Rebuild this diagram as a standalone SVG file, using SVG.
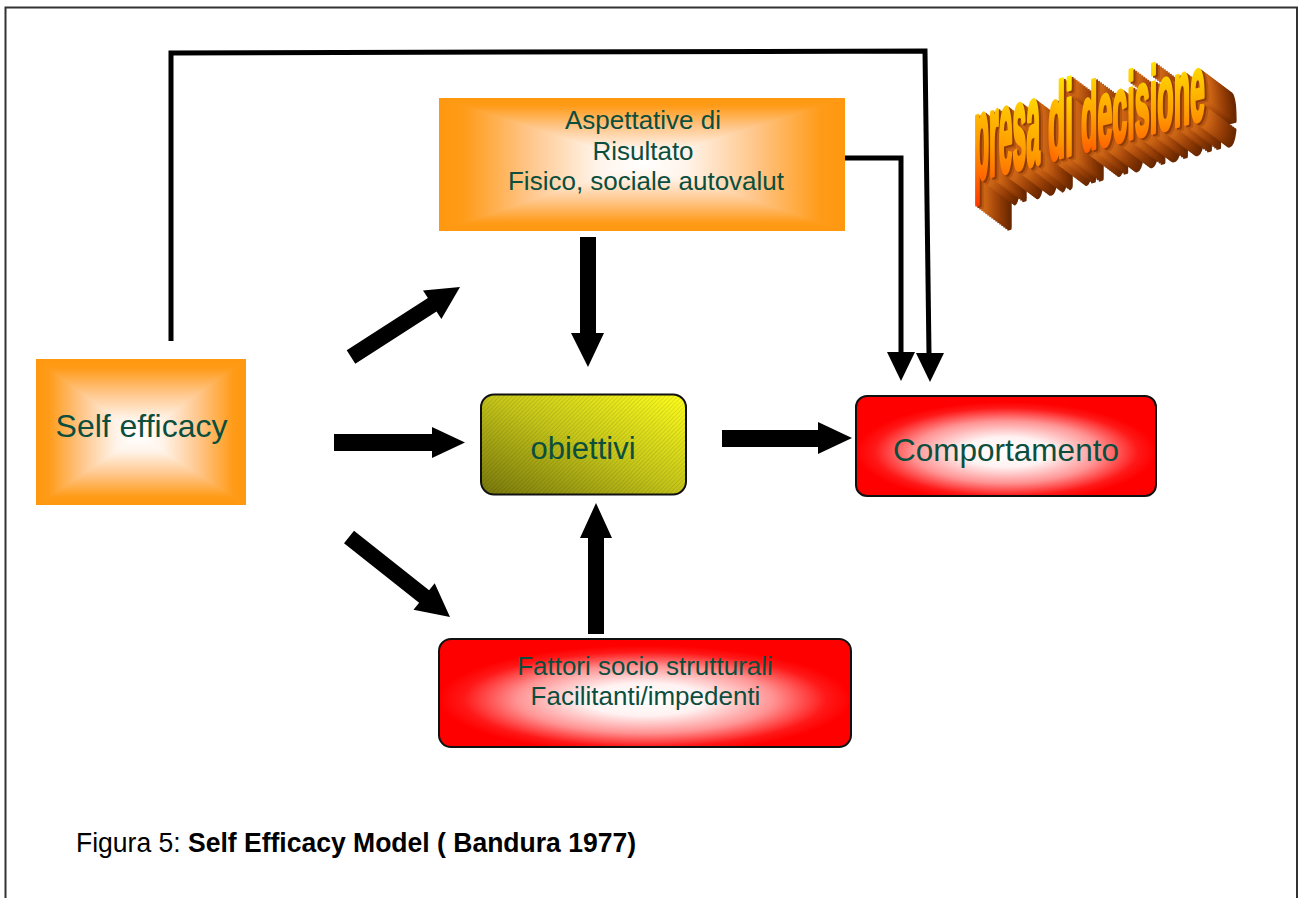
<svg xmlns="http://www.w3.org/2000/svg" xmlns:xlink="http://www.w3.org/1999/xlink" width="1298" height="898" viewBox="0 0 1298 898">
<style>
.lbl{font-family:"Liberation Sans",Arial,sans-serif;fill:#0B4E3E;text-anchor:middle}
.blk{fill:#000}
.thin{fill:none;stroke:#000;stroke-width:5;stroke-linejoin:miter}
.frame{fill:none;stroke:#333;stroke-width:2}
.tri{shape-rendering:crispEdges}
.wa{font-family:"Liberation Sans",Arial,sans-serif;font-weight:bold;font-size:48px}
.ex{stroke-width:2.2;stroke-linejoin:round}
</style>
<defs>
<linearGradient id="og"><stop offset="0" stop-color="#FF980F"/><stop offset="0.12" stop-color="#FF9B18"/><stop offset="0.45" stop-color="#FFC78C"/><stop offset="0.78" stop-color="#FFF4EA"/><stop offset="1" stop-color="#FFFFFF"/></linearGradient>
<radialGradient id="rg" cx="0.5" cy="0.56" r="0.5"><stop offset="0" stop-color="#FFFFFF"/><stop offset="0.3" stop-color="#FFF2F2"/><stop offset="0.62" stop-color="#FF9494"/><stop offset="0.88" stop-color="#FF1818"/><stop offset="1" stop-color="#FF0000"/></radialGradient>
<!-- Self efficacy -->
<linearGradient id="se-t" href="#og" gradientUnits="userSpaceOnUse" x1="0" y1="359" x2="0" y2="436"/>
<linearGradient id="se-b" href="#og" gradientUnits="userSpaceOnUse" x1="0" y1="505" x2="0" y2="436"/>
<linearGradient id="se-l" href="#og" gradientUnits="userSpaceOnUse" x1="36" y1="0" x2="139" y2="0"/>
<linearGradient id="se-r" href="#og" gradientUnits="userSpaceOnUse" x1="246" y1="0" x2="139" y2="0"/>
<!-- Aspettative -->
<linearGradient id="as-t" href="#og" gradientUnits="userSpaceOnUse" x1="0" y1="98" x2="0" y2="163"/>
<linearGradient id="as-b" href="#og" gradientUnits="userSpaceOnUse" x1="0" y1="231" x2="0" y2="163"/>
<linearGradient id="as-l" href="#og" gradientUnits="userSpaceOnUse" x1="439" y1="0" x2="642" y2="0"/>
<linearGradient id="as-r" href="#og" gradientUnits="userSpaceOnUse" x1="845" y1="0" x2="642" y2="0"/>
<!-- obiettivi -->
<linearGradient id="ob" x1="0" y1="1" x2="1" y2="0"><stop offset="0" stop-color="#77770C"/><stop offset="0.5" stop-color="#C4C41A"/><stop offset="1" stop-color="#FFFF1E"/></linearGradient>
<pattern id="hatch" width="3" height="3" patternUnits="userSpaceOnUse" patternTransform="rotate(-45)"><rect width="3" height="1" fill="#000" fill-opacity="0.1"/></pattern>
<!-- WordArt -->
<linearGradient id="wa-face" x1="0" y1="1" x2="0.25" y2="0"><stop offset="0" stop-color="#FF3A00"/><stop offset="0.45" stop-color="#FF9A00"/><stop offset="1" stop-color="#FFEA00"/></linearGradient>
<g id="wa">
  <text class="wa" textLength="66" lengthAdjust="spacingAndGlyphs" transform="translate(974,180) skewY(-15) scale(1,2.45)">presa</text>
  <text class="wa" textLength="25" lengthAdjust="spacingAndGlyphs" transform="translate(1048,160.3) skewY(-15) scale(1,2.2)">di</text>
  <text class="wa" textLength="124" lengthAdjust="spacingAndGlyphs" transform="translate(1081,151.6) skewY(-15) scale(1,1.95)">decisione</text>
</g>
</defs>

<rect class="frame" x="5.5" y="7.5" width="1291.5" height="900"/>

<g id="connectors">
  <polyline class="thin" points="171,341 171,53 925,51 929,354"/>
  <polygon class="blk" points="916,353 944,353 930,382"/>
  <polyline class="thin" points="817,158 901,158 901,353"/>
  <polygon class="blk" points="887,352 915,352 901,381"/>
  <polygon class="blk" points="346.7,350.3 427.9,298.1 423,290.5 460,287 441.4,319.1 436.5,311.5 355.3,363.7"/>
  <polygon class="blk" points="334,434 432,434 432,427 465,442.5 432,458 432,451 334,451"/>
  <polygon class="blk" points="354,530.7 429.1,590.2 434.7,583.2 450,617 413.5,609.8 419.1,602.8 344,543.3"/>
  <polygon class="blk" points="580,237 596,237 596,333 604,333 588,367 571,333 580,333"/>
  <polygon class="blk" points="722,430 818,430 818,422 852,438 818,454 818,447 722,447"/>
  <polygon class="blk" points="588,634 588,538 580,538 596,503 612,538 604,538 604,634"/>
</g>

<g id="node-self-efficacy">
  <rect x="36" y="359" width="210" height="146" fill="#FFB050"/>
  <polygon class="tri" points="36,359 246,359 139,436" fill="url(#se-t)"/>
  <polygon class="tri" points="36,505 246,505 139,436" fill="url(#se-b)"/>
  <polygon class="tri" points="36,359 36,505 139,436" fill="url(#se-l)"/>
  <polygon class="tri" points="246,359 246,505 139,436" fill="url(#se-r)"/>
  <text class="lbl" x="141.5" y="437" font-size="32">Self efficacy</text>
</g>

<g id="node-aspettative">
  <rect x="439" y="98" width="406" height="133" fill="#FFB050"/>
  <polygon class="tri" points="439,98 845,98 642,163" fill="url(#as-t)"/>
  <polygon class="tri" points="439,231 845,231 642,163" fill="url(#as-b)"/>
  <polygon class="tri" points="439,98 439,231 642,163" fill="url(#as-l)"/>
  <polygon class="tri" points="845,98 845,231 642,163" fill="url(#as-r)"/>
  <text class="lbl" font-size="26"><tspan x="643" y="129">Aspettative di</tspan><tspan x="643" y="160">Risultato</tspan><tspan x="646" y="190">Fisico, sociale autovalut</tspan></text>
</g>

<g id="node-obiettivi">
  <rect x="481" y="394.5" width="205" height="100" rx="13" fill="url(#ob)"/>
  <rect x="481" y="394.5" width="205" height="100" rx="13" fill="url(#hatch)" stroke="#111" stroke-width="2"/>
  <text class="lbl" x="583" y="459" font-size="31">obiettivi</text>
</g>

<g id="node-comportamento">
  <rect x="856" y="396" width="300" height="100" rx="11" fill="url(#rg)" stroke="#111" stroke-width="2"/>
  <text class="lbl" x="1006" y="461" font-size="31.5">Comportamento</text>
</g>

<g id="node-fattori">
  <rect x="439" y="639" width="412" height="108" rx="12" fill="url(#rg)" stroke="#111" stroke-width="2"/>
  <text class="lbl" font-size="26"><tspan x="645" y="675">Fattori socio strutturali</tspan><tspan x="645.5" y="705">Facilitanti/impedenti</tspan></text>
</g>

<g id="wordart-presa-di-decisione">
  <use class="ex" href="#wa" x="32" y="24" fill="#6A2800" stroke="#6A2800"/>
  <use class="ex" href="#wa" x="30" y="22.5" fill="#702B00" stroke="#702B00"/>
  <use class="ex" href="#wa" x="28" y="21" fill="#782F00" stroke="#782F00"/>
  <use class="ex" href="#wa" x="26" y="19.5" fill="#803302" stroke="#803302"/>
  <use class="ex" href="#wa" x="24" y="18" fill="#883704" stroke="#883704"/>
  <use class="ex" href="#wa" x="22" y="16.5" fill="#903B06" stroke="#903B06"/>
  <use class="ex" href="#wa" x="20" y="15" fill="#984008" stroke="#984008"/>
  <use class="ex" href="#wa" x="18" y="13.5" fill="#A0450A" stroke="#A0450A"/>
  <use class="ex" href="#wa" x="16" y="12" fill="#A84A0C" stroke="#A84A0C"/>
  <use class="ex" href="#wa" x="14" y="10.5" fill="#B0500E" stroke="#B0500E"/>
  <use class="ex" href="#wa" x="12" y="9" fill="#B85610" stroke="#B85610"/>
  <use class="ex" href="#wa" x="10" y="7.5" fill="#C05C12" stroke="#C05C12"/>
  <use class="ex" href="#wa" x="8" y="6" fill="#C86214" stroke="#C86214"/>
  <use class="ex" href="#wa" x="6" y="4.5" fill="#CC6516" stroke="#CC6516"/>
  <use class="ex" href="#wa" x="4" y="3" fill="#B85610" stroke="#B85610"/>
  <use class="ex" href="#wa" x="2" y="1.5" fill="#8E3C06" stroke="#8E3C06"/>
  <use class="ex" href="#wa" fill="url(#wa-face)" stroke="url(#wa-face)"/>
</g>

<g id="caption">
  <text x="76" y="852" font-family="Liberation Sans, Arial, sans-serif" font-size="27" fill="#000" textLength="560" lengthAdjust="spacingAndGlyphs">Figura 5: <tspan font-weight="bold">Self Efficacy Model ( Bandura 1977)</tspan></text>
</g>
</svg>
